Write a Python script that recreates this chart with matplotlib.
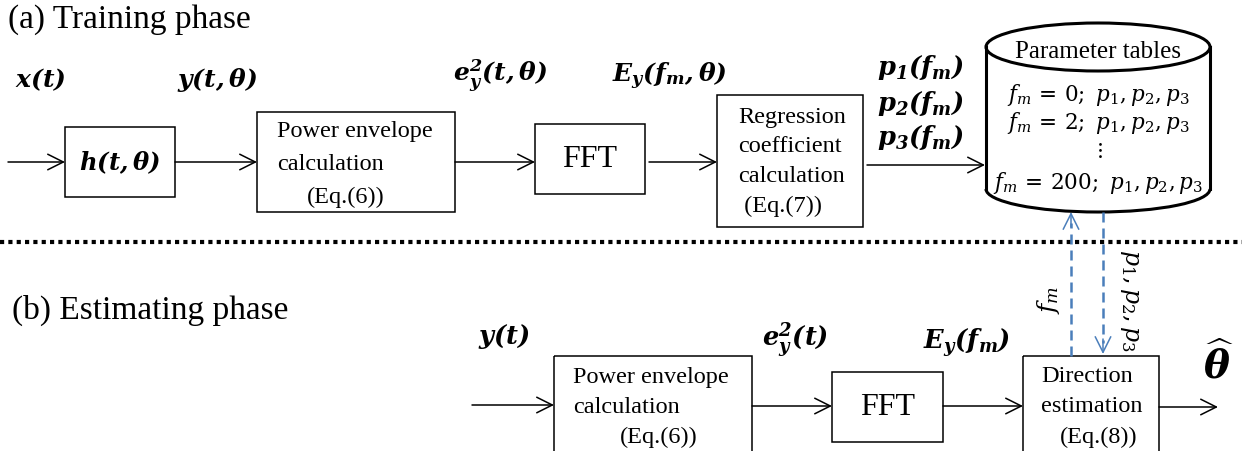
import matplotlib
matplotlib.use("Agg")
import matplotlib.pyplot as plt
from matplotlib.patches import Rectangle, Ellipse, Arc

plt.rcParams['mathtext.fontset'] = 'dejavuserif'
SERIF = 'Liberation Serif'

# ----- text of the diagram -----
phase_titles = ["(a) Training phase", "(b) Estimating phase"]

train_signals = [r"$\mathbfit{x(t)}$", r"$\mathbfit{y(t,\theta)}$",
                 r"$\mathbfit{e_y^2(t,\theta)}$", r"$\mathbfit{E_y(f_m,\theta)}$"]
coef_labels = [r"$\mathbfit{p_1(f_m)}$", r"$\mathbfit{p_2(f_m)}$", r"$\mathbfit{p_3(f_m)}$"]
estim_signals = [r"$\mathbfit{y(t)}$", r"$\mathbfit{e_y^2(t)}$", r"$\mathbfit{E_y(f_m)}$"]

power_lines = ["Power envelope", "calculation", "(Eq.(6))"]
regress_lines = ["Regression", "coefficient", "calculation", " (Eq.(7))"]
direction_lines = ["Direction", "estimation", "(Eq.(8))"]

table_title = "Parameter tables"
table_freqs = ["0", "2", None, "200"]
table_rows = [r"$f_m\,=\,%s;\ p_1,p_2,p_3$" % f if f is not None else r"$\vdots$"
              for f in table_freqs]

fig = plt.figure(figsize=(12.42, 4.52), dpi=100)
ax = fig.add_axes([0, 0, 1, 1])
ax.set_xlim(0, 1242)
ax.set_ylim(452, 0)
ax.axis('off')


def box(x0, y0, x1, y1):
    ax.add_patch(Rectangle((x0, y0), x1 - x0, y1 - y0, fill=False,
                           edgecolor='black', lw=1.1))


def arrow(x0, y0, x1, y1, color='black'):
    ax.annotate("", xy=(x1, y1), xytext=(x0, y0),
                arrowprops=dict(arrowstyle="->", color=color, lw=1.1,
                                shrinkA=0, shrinkB=0, mutation_scale=28))


def lines_in_box(lines, xs, ys, size=17.5):
    for s, x, y in zip(lines, xs, ys):
        ax.text(x, y, s, family=SERIF, fontsize=size, ha='left', va='center')


# ----- (a) training phase -----
ax.text(8, 20, phase_titles[0], family=SERIF, fontsize=24, va='center')
for s, x, y in zip(train_signals, [15, 177, 453, 612], [80, 80, 76, 76]):
    ax.text(x, y, s, fontsize=18, va='center')
for s, y in zip(coef_labels, [68, 104, 138]):
    ax.text(877, y, s, fontsize=18.5, va='center')

box(65, 128, 175, 198)
ax.text(120, 163, r"$\mathbfit{h(t,\theta)}$", fontsize=17.5, ha='center', va='center')

box(257, 113, 455, 213)
lines_in_box(power_lines, [277, 277, 307], [132, 165, 197])

box(535, 125, 645, 195)
ax.text(590, 160, "FFT", family=SERIF, fontsize=23, ha='center', va='center')

box(717, 96, 863, 228)
lines_in_box(regress_lines, [738, 738, 738, 738], [117, 147, 177, 206])

arrow(8, 163, 65, 163)
arrow(175, 163, 257, 163)
arrow(455, 163, 535, 163)
arrow(649, 163, 717, 163)
arrow(867, 166, 985, 166)

# parameter table drum
cx, cw = 1098, 224
ax.add_patch(Ellipse((cx, 48), cw, 48, fill=False, edgecolor='black', lw=2.2))
ax.add_patch(Arc((cx, 190), cw, 46, theta1=0, theta2=180, edgecolor='black', lw=2.2))
ax.plot([cx - cw / 2, cx - cw / 2], [48, 190], color='black', lw=2.2)
ax.plot([cx + cw / 2, cx + cw / 2], [48, 190], color='black', lw=2.2)
ax.text(cx, 52, table_title, family=SERIF, fontsize=18, ha='center', va='center')
for s, y in zip(table_rows, [95, 123, 150, 183]):
    ax.text(cx, y, s, fontsize=15.5, ha='center', va='center')

# separator
ax.plot([0, 1242], [243, 243], color='black', lw=3, linestyle=(0, (1, 1)),
        solid_capstyle='butt', dash_capstyle='butt')

# ----- (b) estimating phase -----
ax.text(12, 310, phase_titles[1], family=SERIF, fontsize=24, va='center')
for s, x, y in zip(estim_signals, [478, 762, 923], [337, 340, 343]):
    ax.text(x, y, s, fontsize=18.5, va='center')

box(554, 357, 752, 470)
lines_in_box(power_lines, [573, 573, 620], [378, 408, 437])

box(832, 373, 943, 443)
ax.text(888, 408, "FFT", family=SERIF, fontsize=23, ha='center', va='center')

box(1023, 357, 1159, 470)
lines_in_box(direction_lines, [1041, 1041, 1060], [377, 407, 437])

ax.text(1219, 364, r"$\widehat{\mathbfit{\theta}}$", fontsize=28, ha='center', va='center')

arrow(472, 406, 554, 406)
arrow(752, 407, 832, 407)
arrow(943, 407, 1023, 407)
arrow(1159, 408, 1218, 408)

# dashed links to the table
blue = '#4A7EBB'
ax.plot([1071, 1071], [357, 224], color=blue, lw=1.8, linestyle=(0, (4, 2.4)))
arrow(1071, 228, 1071, 213, color=blue)
ax.plot([1103, 1103], [213, 344], color=blue, lw=1.8, linestyle=(0, (4, 2.4)))
arrow(1103, 340, 1103, 355, color=blue)
ax.text(1048, 300, r"$f_m$", fontsize=18, rotation=90, ha='center', va='center')
ax.text(1130, 300, r"$p_1,p_2,p_3$", fontsize=17, rotation=270, ha='center', va='center')

fig.savefig("out.png", dpi=100)
